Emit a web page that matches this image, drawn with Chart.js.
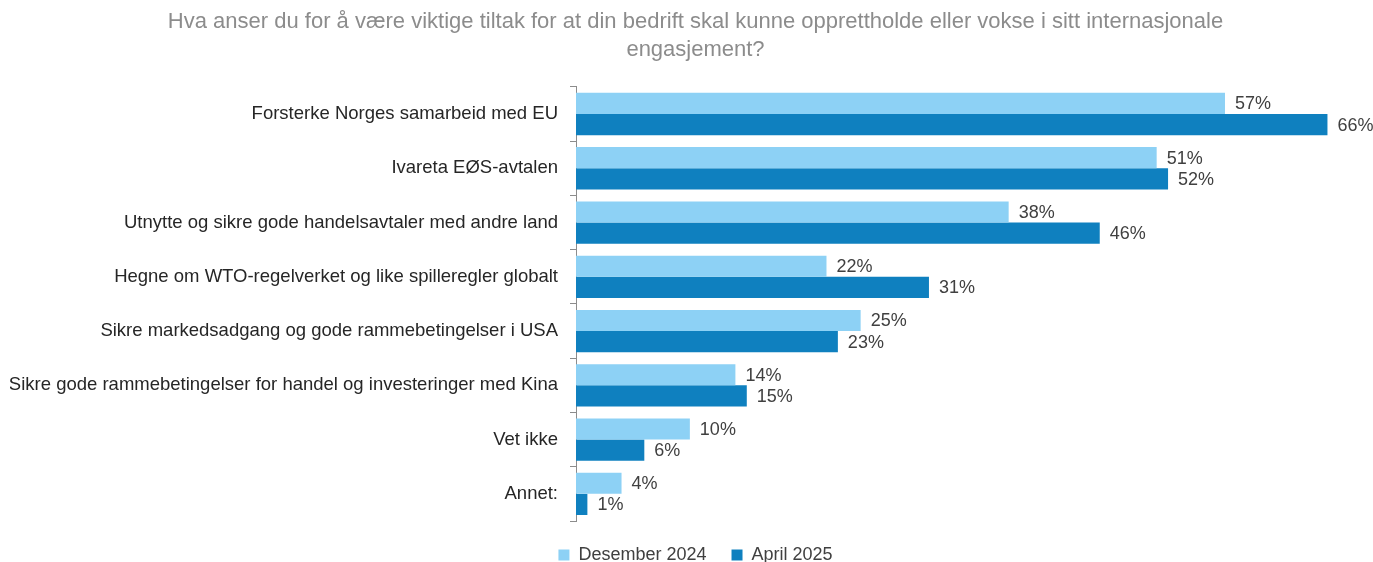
<!DOCTYPE html>
<html>
<head>
<meta charset="utf-8">
<script src="https://cdn.jsdelivr.net/npm/chart.js@4"></script>
<style>
  html, body { margin: 0; padding: 0; background: #fff; }
  #wrap { width: 1373px; height: 562px; position: relative; }
</style>
</head>
<body>
<div id="wrap"><canvas id="chart"></canvas></div>
<script>
const categories = [
  "Forsterke Norges samarbeid med EU",
  "Ivareta EØS-avtalen",
  "Utnytte og sikre gode handelsavtaler med andre land",
  "Hegne om WTO-regelverket og like spilleregler globalt",
  "Sikre markedsadgang og gode rammebetingelser i USA",
  "Sikre gode rammebetingelser for handel og investeringer med Kina",
  "Vet ikke",
  "Annet:"
];
const seriesNames = ["Desember 2024", "April 2025"];
const des2024 = [57, 51, 38, 22, 25, 14, 10, 4];
const apr2025 = [66, 52, 46, 31, 23, 15, 6, 1];

const titleLines = [
  "Hva anser du for å være viktige tiltak for at din bedrift skal kunne opprettholde eller vokse i sitt internasjonale",
  "engasjement?"
];

Chart.defaults.font.family = "'Liberation Sans', Arial, sans-serif";

// value labels at the end of each bar
const barLabels = {
  id: "barLabels",
  afterDatasetsDraw(chart) {
    const ctx = chart.ctx;
    ctx.save();
    ctx.font = "18px 'Liberation Sans', Arial, sans-serif";
    ctx.fillStyle = "#404040";
    ctx.textBaseline = "middle";
    ctx.textAlign = "left";
    chart.data.datasets.forEach((ds, i) => {
      chart.getDatasetMeta(i).data.forEach((bar, j) => {
        ctx.fillText(ds.data[j] + "%", bar.x + 10, bar.y + 1);
      });
    });
    ctx.restore();
  }
};

new Chart(document.getElementById("chart"), {
  type: "bar",
  data: {
    labels: categories,
    datasets: [
      {
        label: seriesNames[0],
        data: des2024,
        backgroundColor: "#8dd1f5",
        borderWidth: 0,
        categoryPercentage: 0.78,
        barPercentage: 1
      },
      {
        label: seriesNames[1],
        data: apr2025,
        backgroundColor: "#0f80bf",
        borderWidth: 0,
        categoryPercentage: 0.78,
        barPercentage: 1
      }
    ]
  },
  options: {
    indexAxis: "y",
    responsive: true,
    maintainAspectRatio: false,
    animation: false,
    layout: { padding: { left: 10, right: -8, top: 0, bottom: -12 } },
    plugins: {
      title: {
        display: true,
        text: titleLines,
        color: "#8c8c8c",
        font: { size: 22, weight: "normal", lineHeight: 1.27 },
        padding: { top: 8, bottom: 23 }
      },
      legend: {
        position: "bottom",
        labels: {
          color: "#404040",
          font: { size: 18 },
          boxWidth: 11,
          boxHeight: 11,
          padding: 25
        }
      },
      tooltip: { enabled: false }
    },
    scales: {
      x: {
        display: false,
        min: 0,
        max: 70
      },
      y: {
        afterFit: (scale) => { scale.width = 566; },
        grid: {
          offset: true,
          drawOnChartArea: false,
          drawTicks: true,
          tickLength: 6,
          color: "#8c8c8c"
        },
        border: { display: true, color: "#8c8c8c", width: 1 },
        ticks: {
          color: "#262626",
          font: { size: 18.5 },
          padding: 12
        }
      }
    }
  },
  plugins: [barLabels]
});
</script>
</body>
</html>
